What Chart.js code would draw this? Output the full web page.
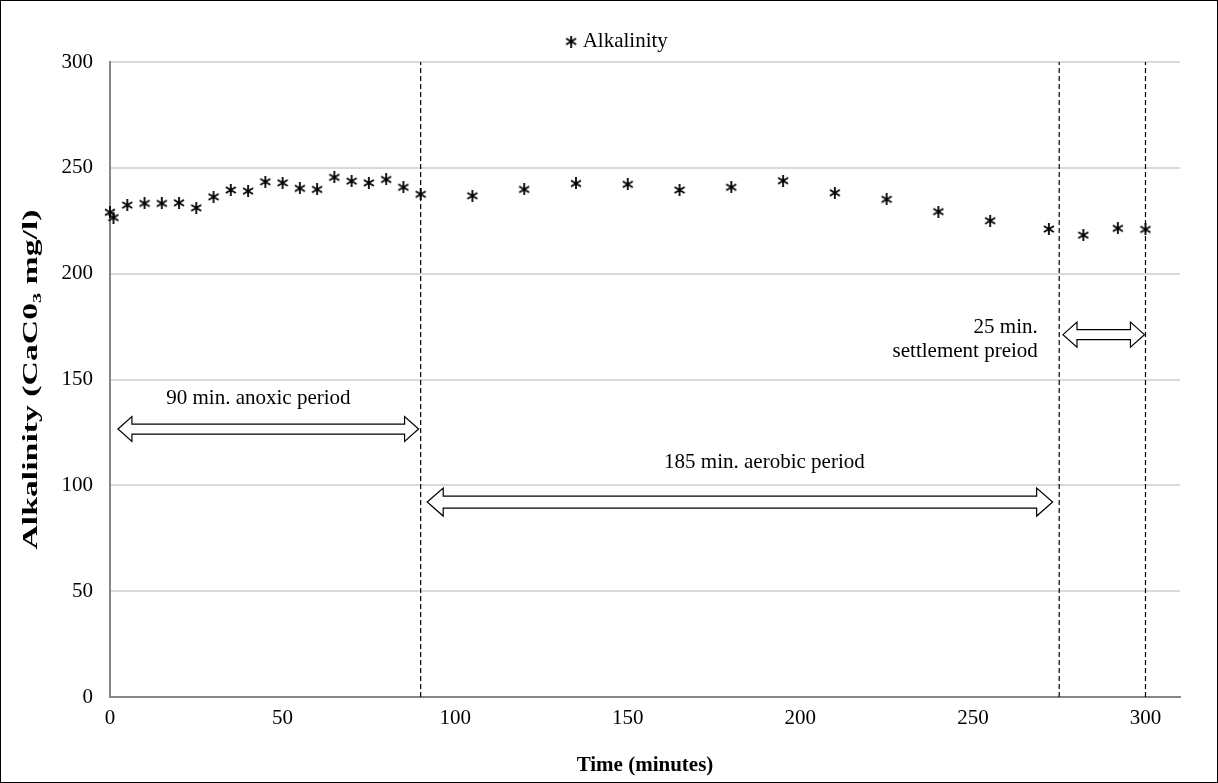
<!DOCTYPE html>
<html><head><meta charset="utf-8">
<script src="https://cdn.jsdelivr.net/npm/chart.js@4.4.1/dist/chart.umd.min.js"></script>
<style>html,body{margin:0;padding:0;background:#fff;}#wrap{width:1218px;height:783px;}</style>
</head><body><div id="wrap"><canvas id="c" width="1218" height="783"></canvas></div>
<script>
const timeMinutes = [0,1,5,10,15,20,25,30,35,40,45,50,55,60,65,70,75,80,85,90,105,120,135,150,165,180,195,210,225,240,255,272,282,292,300];
const alkalinity = [229,226.5,232.4,233.2,233.2,233.5,231.1,236.3,239.5,239,243.4,242.9,240.3,239.8,245.5,243.7,242.9,244.5,240.8,237.5,236.8,239.8,242.6,242.2,239.5,240.8,243.9,238.2,235.1,229.3,225,221.1,218.2,221.4,220.9];
const phaseBoundaries = [90, 275, 300];
const arrowStarts = [2.3, 91.9, 276.1];
const arrowEnds = [89.4, 273.1, 299.7];
const arrowLevels = [126.6, 92.1, 171.2];
const labelTexts = ['90 min. anoxic period', '185 min. aerobic period', '25 min.', 'settlement preiod'];
const labelX = [43, 189.6, 268.8, 268.8];
const labelY = [141.2, 111, 174.8, 163.4];
const labelAlign = ['center', 'center', 'right', 'right'];
const xTickValues = [0, 50, 100, 150, 200, 250, 300];
const yAxisTitle = 'Alkalinity (CaC0₃ mg/l)';
const xAxisTitle = 'Time (minutes)';

const FONT = '"Liberation Serif", "Times New Roman", serif';

function makeMarker(){
  const c = document.createElement('canvas');
  c.width = 12; c.height = 12;
  const g = c.getContext('2d');
  g.strokeStyle = '#000'; g.lineWidth = 1.8; g.lineCap = 'butt';
  g.beginPath();
  g.moveTo(6, 0); g.lineTo(6, 12);
  g.moveTo(1, 3); g.lineTo(11, 9);
  g.moveTo(1, 9); g.lineTo(11, 3);
  g.stroke();
  return c;
}
const marker = makeMarker();

const points = timeMinutes.map((t, i) => ({x: t, y: alkalinity[i]}));
const boundarySets = phaseBoundaries.map(b => ({
  label: 'boundary', type: 'line', data: [{x: b, y: 0}, {x: b, y: 300}],
  borderColor: '#000', borderWidth: 1.2, borderDash: [5, 3], pointRadius: 0, fill: false, showLine: true, clip: false
}));

const annot = {
  id: 'annot',
  afterLayout(chart){
    const lg = chart.legend;
    if (lg) { lg.left += 29; lg.right += 29; }
  },
  afterDatasetsDraw(chart){
    const ctx = chart.ctx, xs = chart.scales.x, ys = chart.scales.y;
    ctx.save();
    for (let i = 0; i < arrowStarts.length; i++){
      const x1 = xs.getPixelForValue(arrowStarts[i]);
      const x2 = xs.getPixelForValue(arrowEnds[i]);
      const yc = ys.getPixelForValue(arrowLevels[i]);
      const big = (x2 - x1) > 500;
      const sh = big ? 6 : 5, hh = big ? 14 : 12.5, hl = big ? 16 : 14;
      ctx.beginPath();
      ctx.moveTo(x1, yc);
      ctx.lineTo(x1 + hl, yc - hh);
      ctx.lineTo(x1 + hl, yc - sh);
      ctx.lineTo(x2 - hl, yc - sh);
      ctx.lineTo(x2 - hl, yc - hh);
      ctx.lineTo(x2, yc);
      ctx.lineTo(x2 - hl, yc + hh);
      ctx.lineTo(x2 - hl, yc + sh);
      ctx.lineTo(x1 + hl, yc + sh);
      ctx.lineTo(x1 + hl, yc + hh);
      ctx.closePath();
      ctx.fillStyle = '#fff'; ctx.fill();
      ctx.strokeStyle = '#000'; ctx.lineWidth = 1.2; ctx.stroke();
    }
    ctx.fillStyle = '#000';
    ctx.font = '21px ' + FONT;
    ctx.textBaseline = 'middle';
    for (let i = 0; i < labelTexts.length; i++){
      ctx.textAlign = labelAlign[i];
      ctx.fillText(labelTexts[i], xs.getPixelForValue(labelX[i]), ys.getPixelForValue(labelY[i]));
    }
    ctx.restore();
  },
  afterDraw(chart){
    const ctx = chart.ctx, area = chart.chartArea;
    ctx.save();
    // y axis title (stretched along its length as in the reference)
    ctx.font = 'bold 20px ' + FONT;
    ctx.fillStyle = '#000';
    ctx.textAlign = 'center';
    ctx.textBaseline = 'middle';
    const w = ctx.measureText(yAxisTitle).width;
    ctx.translate(32, (area.top + area.bottom) / 2);
    ctx.rotate(-Math.PI / 2);
    ctx.scale(340 / w, 1);
    ctx.fillText(yAxisTitle, 0, 0);
    ctx.restore();
    ctx.save();
    ctx.strokeStyle = '#000'; ctx.lineWidth = 1;
    ctx.strokeRect(0.5, 0.5, chart.width - 1, chart.height - 1);
    ctx.restore();
  }
};

new Chart(document.getElementById('c'), {
  type: 'scatter',
  data: {
    datasets: [{
      label: 'Alkalinity', data: points, pointStyle: marker, pointRadius: 6,
      borderColor: '#000', backgroundColor: '#000', showLine: false, clip: false
    }, ...boundarySets]
  },
  options: {
    responsive: false, animation: false, devicePixelRatio: 1,
    layout: {padding: {top: 19, right: 38, left: 0, bottom: 0}},
    plugins: {
      legend: {
        display: true, position: 'top',
        labels: {
          usePointStyle: true, boxWidth: 2, boxHeight: 10, padding: 12, color: '#000',
          font: {family: FONT, size: 21},
          filter: item => item.text === 'Alkalinity'
        }
      },
      tooltip: {enabled: false}
    },
    scales: {
      x: {
        type: 'linear', min: 0, max: 310,
        afterBuildTicks: s => { s.ticks = xTickValues.map(v => ({value: v})); },
        afterFit: s => { s.height = 86; },
        grid: {display: false, drawTicks: false},
        border: {display: true, color: '#868686', width: 2},
        ticks: {padding: 9, color: '#000', font: {family: FONT, size: 21}},
        title: {display: true, text: xAxisTitle, color: '#000', font: {family: FONT, size: 21, weight: 'bold'}, padding: {top: 0, bottom: 5}}
      },
      y: {
        type: 'linear', min: 0, max: 300,
        ticks: {stepSize: 50, padding: 17, color: '#000', font: {family: FONT, size: 21}},
        afterFit: s => { s.width = 110; },
        grid: {color: '#d9d9d9', lineWidth: 2, drawTicks: false},
        border: {display: true, color: '#868686', width: 2},
        title: {display: false}
      }
    }
  },
  plugins: [annot]
});
</script>
</body></html>
